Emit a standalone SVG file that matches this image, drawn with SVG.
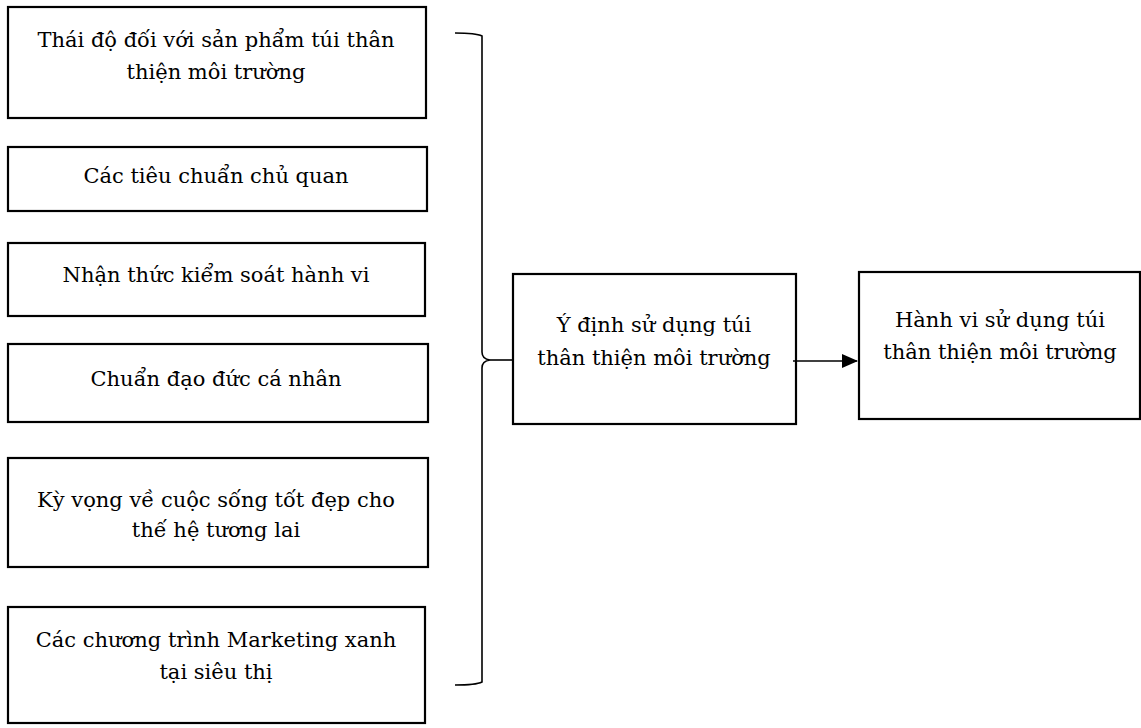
<svg xmlns="http://www.w3.org/2000/svg" width="1141" height="728" viewBox="0 0 1141 728">
<style>
.box{fill:#fff;stroke:#000;stroke-width:2.2}
.t{font-family:"DejaVu Serif","Liberation Serif",serif;font-size:21px;fill:#000;text-anchor:middle}
.c{fill:none;stroke:#000;stroke-width:1.6}
</style>
<defs>
<marker id="ah" markerWidth="16" markerHeight="14" refX="15" refY="7" orient="auto" markerUnits="userSpaceOnUse" viewBox="0 0 16 14">
<path d="M0,0 L16,7 L0,14 Z" fill="#000"/>
</marker>
</defs>
<rect width="1141" height="728" fill="#fff"/>
<g id="n1"><rect class="box" x="8" y="7" width="418" height="111"/>
<text class="t" x="216" y="47">Thái độ đối với sản phẩm túi thân</text>
<text class="t" x="216" y="79">thiện môi trường</text></g>
<g id="n2"><rect class="box" x="8" y="147" width="419" height="64"/>
<text class="t" x="216" y="183">Các tiêu chuẩn chủ quan</text></g>
<g id="n3"><rect class="box" x="8" y="243" width="417" height="73"/>
<text class="t" x="216" y="282">Nhận thức kiểm soát hành vi</text></g>
<g id="n4"><rect class="box" x="8" y="344" width="420" height="78"/>
<text class="t" x="216" y="386">Chuẩn đạo đức cá nhân</text></g>
<g id="n5"><rect class="box" x="8" y="458" width="420" height="109"/>
<text class="t" x="216" y="507">Kỳ vọng về cuộc sống tốt đẹp cho</text>
<text class="t" x="216" y="537">thế hệ tương lai</text></g>
<g id="n6"><rect class="box" x="8" y="607" width="417" height="116"/>
<text class="t" x="216" y="647">Các chương trình Marketing xanh</text>
<text class="t" x="216" y="679">tại siêu thị</text></g>
<g id="n7"><rect class="box" x="513" y="274" width="283" height="150"/>
<text class="t" x="654" y="332">Ý định sử dụng túi</text>
<text class="t" x="654" y="365">thân thiện môi trường</text></g>
<g id="n8"><rect class="box" x="859" y="272" width="281" height="147"/>
<text class="t" x="1000" y="327">Hành vi sử dụng túi</text>
<text class="t" x="1000" y="359">thân thiện môi trường</text></g>
<g id="connectors">
<path class="c" d="M455,33 Q476,33 482,36 L482,352 Q482,359 490,360 Q482,361 482,368 L482,682 Q476,685 455,685"/>
<path class="c" d="M490,360 L512,360"/>
<path class="c" stroke-width="2.4" d="M793,361 L857,361" marker-end="url(#ah)"/>
</g>
</svg>
